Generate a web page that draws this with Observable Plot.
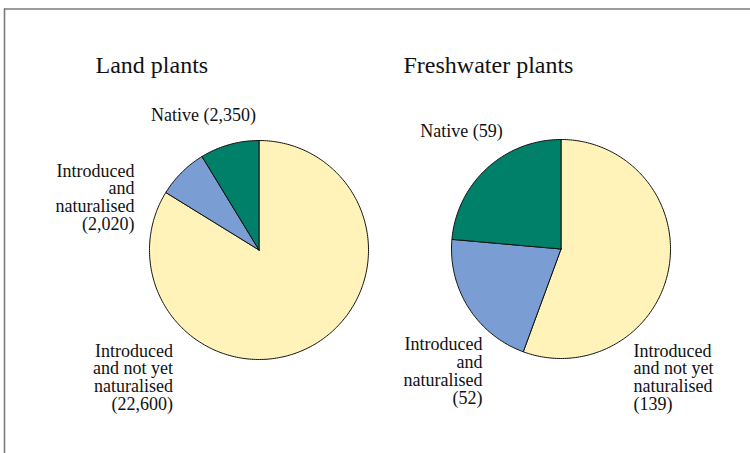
<!DOCTYPE html>
<html><head><meta charset="utf-8">
<script src="https://cdn.jsdelivr.net/npm/d3@7"></script>
<script src="https://cdn.jsdelivr.net/npm/@observablehq/plot@0.6"></script>
<style>
body{margin:0;background:#fff;}
#chart svg{display:block;}
</style>
</head><body><div id="chart"></div>
<script>
// ---------- data ----------
const categories = ["Introduced and not yet naturalised", "Introduced and naturalised", "Native"];
const categoryLines = [["Introduced", "and not yet", "naturalised"], ["Introduced", "and", "naturalised"], ["Native"]];
const landValues = [22600, 2020, 2350];
const freshwaterValues = [139, 52, 59];
const panelTitles = ["Land plants", "Freshwater plants"];
const sliceColors = ["#fff3ba", "#7a9ed3", "#007f69"];

// ---------- layout ----------
const W = 750, H = 453;
const FONT = "'Liberation Serif', 'DejaVu Serif', serif";
const pieLayout = [
  {cx: 258.5, cy: 249.5, r: 109.5},
  {cx: 560.5, cy: 248.5, r: 109.5}
];
const titleLayout = [{x: 95, y: 72}, {x: 403, y: 72}];
const labelLayout = [
  [{x: 172.5, y: 356, anchor: "end"}, {x: 134, y: 176, anchor: "end"}, {x: 203, y: 120.5, anchor: "middle"}],
  [{x: 633, y: 356, anchor: "start"}, {x: 482, y: 349.5, anchor: "end"}, {x: 461, y: 136.5, anchor: "middle"}]
];
const FS = 18, LH = 18, TFS = 24;

const fmt = d3.format(",");
const series = [landValues, freshwaterValues];

const slicePoints = [];
const labels = [];
series.forEach((vals, p) => {
  const {cx, cy, r} = pieLayout[p];
  const arcs = d3.pie().sort(null).value(d => d)(vals);
  arcs.forEach((a, i) => {
    const key = p + "-" + i;
    const pts = [[cx, cy]];
    const n = Math.max(2, Math.ceil((a.endAngle - a.startAngle) / (Math.PI / 180)));
    for (let k = 0; k <= n; k++) {
      const t = a.startAngle + (a.endAngle - a.startAngle) * k / n;
      pts.push([cx + r * Math.sin(t), cy - r * Math.cos(t)]);
    }
    pts.push([cx, cy]);
    pts.forEach(([x, y]) => slicePoints.push({key, x, y, color: sliceColors[i]}));
    const lines = categoryLines[i].slice();
    if (lines.length === 1) lines[0] = lines[0] + " (" + fmt(vals[i]) + ")";
    else lines.push("(" + fmt(vals[i]) + ")");
    const L = labelLayout[p][i];
    labels.push({text: lines.join("\n"), x: L.x, y: L.y - 0.71 * FS, anchor: L.anchor});
  });
});

const titles = panelTitles.map((t, i) => ({text: t, x: titleLayout[i].x, y: titleLayout[i].y}));

const textMark = (anchor) => Plot.text(labels.filter(d => d.anchor === anchor), {
  x: "x", y: "y", text: "text", textAnchor: anchor, lineAnchor: "top",
  lineHeight: LH / FS, fontSize: FS, fontFamily: FONT, fill: "#111"
});

const chart = Plot.plot({
  width: W, height: H,
  margin: 0,
  x: {type: "linear", domain: [0, W], range: [0, W], axis: null},
  y: {type: "linear", domain: [0, H], range: [0, H], axis: null},
  color: {type: "identity"},
  style: {fontFamily: FONT, background: "#fff"},
  marks: [
    Plot.ruleY([8.5], {x1: 4, x2: W, stroke: "#7a7a7a", strokeWidth: 1.6}),
    Plot.ruleX([4], {y1: 8.5, y2: H, stroke: "#7a7a7a", strokeWidth: 1.6}),
    Plot.line(slicePoints, {x: "x", y: "y", z: "key", fill: "color", stroke: "#111", strokeWidth: 1, strokeLinejoin: "round", curve: "linear"}),
    textMark("start"), textMark("middle"), textMark("end"),
    Plot.text(titles, {x: "x", y: "y", text: "text", textAnchor: "start", lineAnchor: "bottom",
      fontSize: TFS, fontFamily: FONT, fill: "#111"})
  ]
});
document.getElementById("chart").appendChild(chart);
</script>
</body></html>
